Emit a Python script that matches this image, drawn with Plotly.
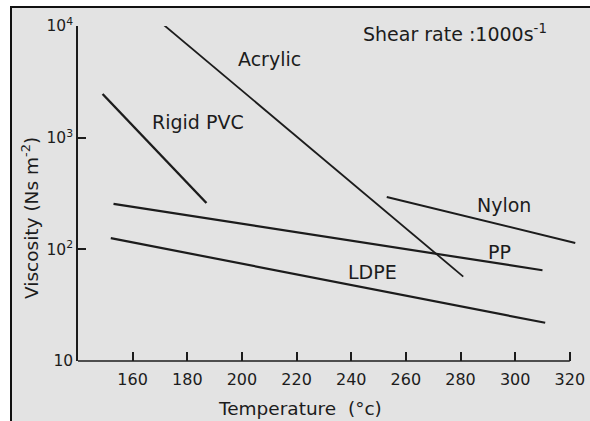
import plotly.graph_objects as go

# ---- data ----
acrylic_t = [168, 281]
acrylic_v = [12000, 57]
pvc_t = [149, 187]
pvc_v = [2460, 260]
pp_t = [153, 310]
pp_v = [255, 65]
ldpe_t = [152, 311]
ldpe_v = [126, 22]
nylon_t = [253, 322]
nylon_v = [294, 114]

x_ticks = [160, 180, 200, 220, 240, 260, 280, 300, 320]
y_ticks = [10, 100, 1000, 10000]
y_tick_text = ["10", "10<sup>2</sup>", "10<sup>3</sup>", "10<sup>4</sup>"]

FONT = "DejaVu Sans"
INK = "#1c1c1c"

fig = go.Figure()
series = [
    (acrylic_t, acrylic_v, 1.8),
    (pvc_t, pvc_v, 2.4),
    (pp_t, pp_v, 2.2),
    (ldpe_t, ldpe_v, 2.2),
    (nylon_t, nylon_v, 2.0),
]
for t, v, w in series:
    fig.add_trace(go.Scatter(x=t, y=v, mode="lines",
                             line=dict(color=INK, width=w),
                             showlegend=False, hoverinfo="skip"))

W, H = 590, 421
ML, MR, MT, MB = 78, 12, 26, 60
pw = W - ML - MR
ph = H - MT - MB

def px(xp):
    return (xp - ML) / pw

def py(yp):
    return (H - MB - yp) / ph

shapes = [
    # scanned page frame
    dict(type="rect", xref="paper", yref="paper",
         x0=px(11), x1=px(620), y0=py(460), y1=py(7),
         fillcolor="#e3e3e3", line=dict(color="#111111", width=2), layer="below"),
    # x axis line (ends at the 320 tick)
    dict(type="line", xref="x", yref="paper", x0=140, x1=320, y0=0, y1=0,
         line=dict(color=INK, width=1.5)),
]

ann_font = dict(family=FONT, size=19, color=INK)
annotations = [
    dict(x=210.2, y=3.705, text="Acrylic"),
    dict(x=184.1, y=3.141, text="Rigid PVC"),
    dict(x=296.0, y=2.397, text="Nylon"),
    dict(x=294.2, y=1.977, text="PP"),
    dict(x=247.8, y=1.798, text="LDPE"),
    dict(x=278.0, y=3.937, text="Shear rate :1000s<sup>-1</sup>"),
]
for a in annotations:
    a.update(xref="x", yref="y", showarrow=False, font=ann_font,
             xanchor="center", yanchor="middle")

title_font = dict(family=FONT, size=18.5, color=INK)
annotations += [
    dict(xref="paper", yref="paper", x=px(300), y=py(408), text="Temperature  (°c)",
         showarrow=False, font=title_font, xanchor="center", yanchor="middle"),
    dict(xref="paper", yref="paper", x=px(30), y=py(218),
         text="Viscosity (Ns m<sup>-2</sup>)", textangle=-90,
         showarrow=False, font=title_font, xanchor="center", yanchor="middle"),
]

fig.update_layout(
    width=W, height=H,
    margin=dict(l=ML, r=MR, t=MT, b=MB, autoexpand=False),
    paper_bgcolor="white",
    plot_bgcolor="rgba(0,0,0,0)",
    shapes=shapes,
    annotations=annotations,
    xaxis=dict(range=[140, 323], tickvals=x_ticks, ticks="inside", ticklen=9,
               tickwidth=1.5, tickcolor=INK, showline=False, showgrid=False,
               zeroline=False, ticklabelstandoff=7, automargin=False,
               tickfont=dict(family=FONT, size=16, color=INK)),
    yaxis=dict(type="log", range=[1, 4], tickvals=y_ticks, ticktext=y_tick_text,
               ticks="inside", ticklen=8, tickwidth=1.5, tickcolor=INK,
               showline=True, linecolor=INK, linewidth=1.5, showgrid=False,
               zeroline=False, automargin=False,
               tickfont=dict(family=FONT, size=15.5, color=INK)),
)

fig.write_html("out.html")
